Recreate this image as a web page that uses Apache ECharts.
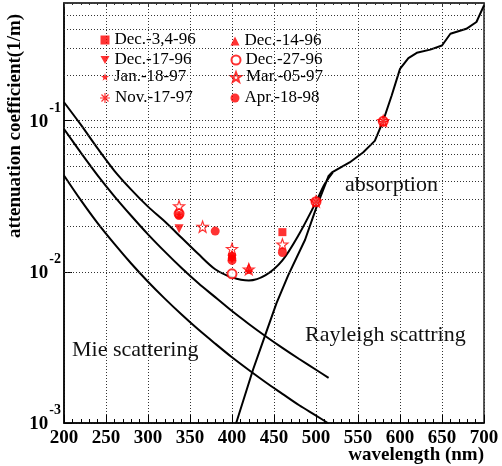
<!DOCTYPE html>
<html>
<head>
<meta charset="utf-8">
<script src="https://cdn.jsdelivr.net/npm/echarts@6/dist/echarts.min.js"></script>
<style>
  html, body { margin: 0; padding: 0; background: #fff; }
  #chart { width: 502px; height: 466px; }
</style>
</head>
<body>
<div id="chart"></div>
<script>
// curves
const rayWl = [200, 220, 240, 260, 280, 300, 320, 340, 360, 380, 400, 420, 440, 460, 480, 500, 515];
const rayVal = [0.0880, 0.0615, 0.0435, 0.0316, 0.0235, 0.0177, 0.0136, 0.0106, 0.0084, 0.0068, 0.0055, 0.00452, 0.00375, 0.00314, 0.00265, 0.00225, 0.00199];
const mieWl = [200, 220, 240, 260, 280, 300, 320, 340, 360, 380, 400, 420, 440, 460, 480, 500, 514];
const mieVal = [0.0434, 0.0298, 0.0210, 0.0153, 0.01135, 0.0086, 0.00665, 0.00522, 0.00415, 0.00335, 0.00272, 0.00224, 0.00186, 0.00156, 0.00131, 0.00112, 0.00100];
const totWl = [200, 220, 240, 260, 280, 300, 320, 340, 360, 380, 400, 420, 440, 460, 480, 500, 510, 520];
const totVal = [0.1323, 0.094, 0.0655, 0.0466, 0.035, 0.027, 0.0215, 0.0168, 0.0131, 0.0104, 0.0092, 0.00876, 0.0095, 0.0119, 0.0178, 0.0289, 0.0378, 0.0454];
const absWl = [405, 425, 439, 453, 467, 487, 501, 515, 519, 540, 556, 570, 580, 590, 600, 610, 620, 636, 650, 660, 679, 691, 700];
const absVal = [0.001, 0.00225, 0.00374, 0.0062, 0.0095, 0.0163, 0.0272, 0.0431, 0.0454, 0.0529, 0.0616, 0.0735, 0.0998, 0.146, 0.22, 0.259, 0.281, 0.295, 0.314, 0.3755, 0.405, 0.449, 0.579];

// measurements [wavelength, value]
const dec34_96 = [[400, 0.0125], [460, 0.0183]];
const dec14_96 = [[400, 0.0131], [420, 0.0107]];
const dec17_96 = [[337, 0.0193], [400, 0.0121]];
const dec27_96 = [[337, 0.0243], [400, 0.0097], [500, 0.0291], [580, 0.0990]];
const jan18_97 = [[337, 0.0239], [420, 0.0101]];
const mar05_97 = [[337, 0.0272], [365, 0.0199], [400, 0.0142], [420, 0.0104], [460, 0.0152], [500, 0.0292], [580, 0.0995]];
const nov17_97 = [[500, 0.0290], [580, 0.0985]];
const apr18_98 = [[337, 0.0236], [380, 0.0186], [400, 0.0119], [460, 0.0134]];

const xTicks = [200, 250, 300, 350, 400, 450, 500, 550, 600, 650, 700];

const RED = '#ff0000';
const SERIF = 'Liberation Serif';
const STAR = 'path://M0,-10 L2.35,-3.24 L9.51,-3.09 L3.8,1.24 L5.88,8.09 L0,4 L-5.88,8.09 L-3.8,1.24 L-9.51,-3.09 L-2.35,-3.24 Z';
const DOWN = 'path://M-10,-9 L10,-9 L0,9 Z';
const ASTER = 'path://M-1.2,-10 L1.2,-10 L1.2,10 L-1.2,10 Z M-10,-1.2 L10,-1.2 L10,1.2 L-10,1.2 Z M-7.9,-6.2 L-6.2,-7.9 L7.9,6.2 L6.2,7.9 Z M6.2,-7.9 L7.9,-6.2 L-6.2,7.9 L-7.9,6.2 Z';

const pair = (xs, ys) => xs.map((x, i) => [x, ys[i]]);

// minor gridlines of the log axis
const minorY = [];
[0.001, 0.01, 0.1].forEach(d => {
  for (let k = 2; k <= 9; k++) if (d * k < 0.6) minorY.push({ yAxis: +(d * k).toPrecision(2) });
});

const curve = (name, data) => ({
  name, type: 'line', data, showSymbol: false, smooth: 0.3,
  lineStyle: { color: '#000', width: 2 }, silent: true, z: 3
});

const dots = (name, data, symbol, size, style) => ({
  name, type: 'scatter', data, symbol, symbolSize: size,
  itemStyle: Object.assign({ color: RED }, style || {}), z: 5
});

const seriesList = [
  Object.assign(curve('rayleigh', pair(rayWl, rayVal)), {
    markLine: {
      silent: true, symbol: 'none', label: { show: false },
      lineStyle: { color: '#333', width: 1, type: [1, 2] },
      data: minorY
    }
  }),
  curve('mie', pair(mieWl, mieVal)),
  curve('total', pair(totWl, totVal)),
  Object.assign(curve('absorption', pair(absWl, absVal)), { smooth: false }),
  dots('Dec.-3,4-96', dec34_96, 'rect', 8),
  dots('Dec.-14-96', dec14_96, 'triangle', 9),
  dots('Dec.-17-96', dec17_96, DOWN, 9),
  dots('Dec.-27-96', dec27_96, 'emptyCircle', 9, { borderColor: RED, borderWidth: 1.3 }),
  dots('Jan.-18-97', jan18_97, STAR, 7),
  dots('Mar.-05-97', mar05_97, STAR, 11, { color: 'rgba(255,255,255,0)', borderColor: RED, borderWidth: 1.2 }),
  dots('Nov.-17-97', nov17_97, ASTER, 10),
  dots('Apr.-18-98', apr18_98, 'circle', 9)
];

const legendItem = (name, cx, cy, size) => ({
  data: [name], left: cx - size / 2, top: cy - 9, padding: 0,
  itemWidth: size, itemHeight: size, selectedMode: false,
  textStyle: { fontFamily: SERIF, fontSize: 17, color: '#000', lineHeight: 18 }
});

const chart = echarts.init(document.getElementById('chart'));
chart.setOption({
  animation: false,
  backgroundColor: '#fff',
  grid: { left: 64, right: 18, top: 3, bottom: 43, show: true, borderColor: '#222', borderWidth: 1.5 },
  legend: [
    legendItem('Dec.-3,4-96', 105, 40, 9),
    legendItem('Dec.-17-96', 105, 60, 9),
    legendItem('Jan.-18-97', 105, 77, 8),
    legendItem('Nov.-17-97', 105, 98, 10),
    legendItem('Dec.-14-96', 235, 41, 9),
    legendItem('Dec.-27-96', 235, 60, 9),
    legendItem('Mar.-05-97', 235, 77, 10),
    legendItem('Apr.-18-98', 235, 98, 9)
  ],
  xAxis: [{
    type: 'value', min: 200, max: 700, interval: 50,
    axisLine: { lineStyle: { color: '#000', width: 1.5 } },
    axisTick: { inside: true, length: 8, lineStyle: { color: '#000' } },
    minorTick: { show: true, splitNumber: 5, length: 4, lineStyle: { color: '#000' } },
    splitLine: { show: true, lineStyle: { color: '#333', width: 1, type: [1, 2] } },
    axisLabel: {
      fontFamily: SERIF, fontWeight: 'bold', fontSize: 19, color: '#000', margin: 6,
      formatter: v => xTicks.includes(v) ? String(v) : ''
    }
  }, {
    type: 'value', min: 200, max: 700, interval: 50, position: 'top',
    axisLine: { show: true, lineStyle: { color: '#333', width: 1.5 } },
    axisTick: { inside: true, length: 4, lineStyle: { color: '#333' } },
    minorTick: { show: true, splitNumber: 5, length: 2 },
    axisLabel: { show: false }, splitLine: { show: false }
  }],
  yAxis: [{
    type: 'log', logBase: 10, min: 0.001, max: 0.6,
    axisLine: { show: true, lineStyle: { color: '#000', width: 1.5 } },
    axisTick: { inside: true, length: 8, lineStyle: { color: '#000' } },
    splitLine: { show: true, lineStyle: { color: '#333', width: 1, type: [1, 2] } },
    axisLabel: {
      showMaxLabel: false, margin: 3,
      formatter: v => '{b|10}{s|' + Math.round(Math.log10(v)) + '}',
      rich: {
        b: { fontFamily: SERIF, fontWeight: 'bold', fontSize: 19, color: '#000', verticalAlign: 'middle', padding: [3, 0, 0, 0] },
        s: { fontFamily: SERIF, fontWeight: 'bold', fontSize: 14, color: '#000', verticalAlign: 'middle', padding: [0, 0, 25, 1] }
      }
    }
  }],
  graphic: [
    { type: 'text', x: 15, y: 126, rotation: Math.PI / 2,
      style: { text: 'attenuation coefficient(1/m)', fontFamily: SERIF, fontWeight: 'bold', fontSize: 19, fill: '#000', textAlign: 'center', textVerticalAlign: 'middle' } },
    { type: 'text', x: 484, y: 455,
      style: { text: 'wavelength (nm)', fontFamily: SERIF, fontWeight: 'bold', fontSize: 19, fill: '#000', textAlign: 'right', textVerticalAlign: 'middle' } },
    { type: 'text', x: 345, y: 185, z: 10,
      style: { text: 'absorption', fontFamily: SERIF, fontSize: 22, fill: '#111', textAlign: 'left', textVerticalAlign: 'middle' } },
    { type: 'text', x: 305, y: 335, z: 10,
      style: { text: 'Rayleigh scattring', fontFamily: SERIF, fontSize: 22, fill: '#111', textAlign: 'left', textVerticalAlign: 'middle' } },
    { type: 'text', x: 72, y: 350, z: 10,
      style: { text: 'Mie scattering', fontFamily: SERIF, fontSize: 22, fill: '#111', textAlign: 'left', textVerticalAlign: 'middle' } }
  ],
  series: seriesList
});
</script>
</body>
</html>
